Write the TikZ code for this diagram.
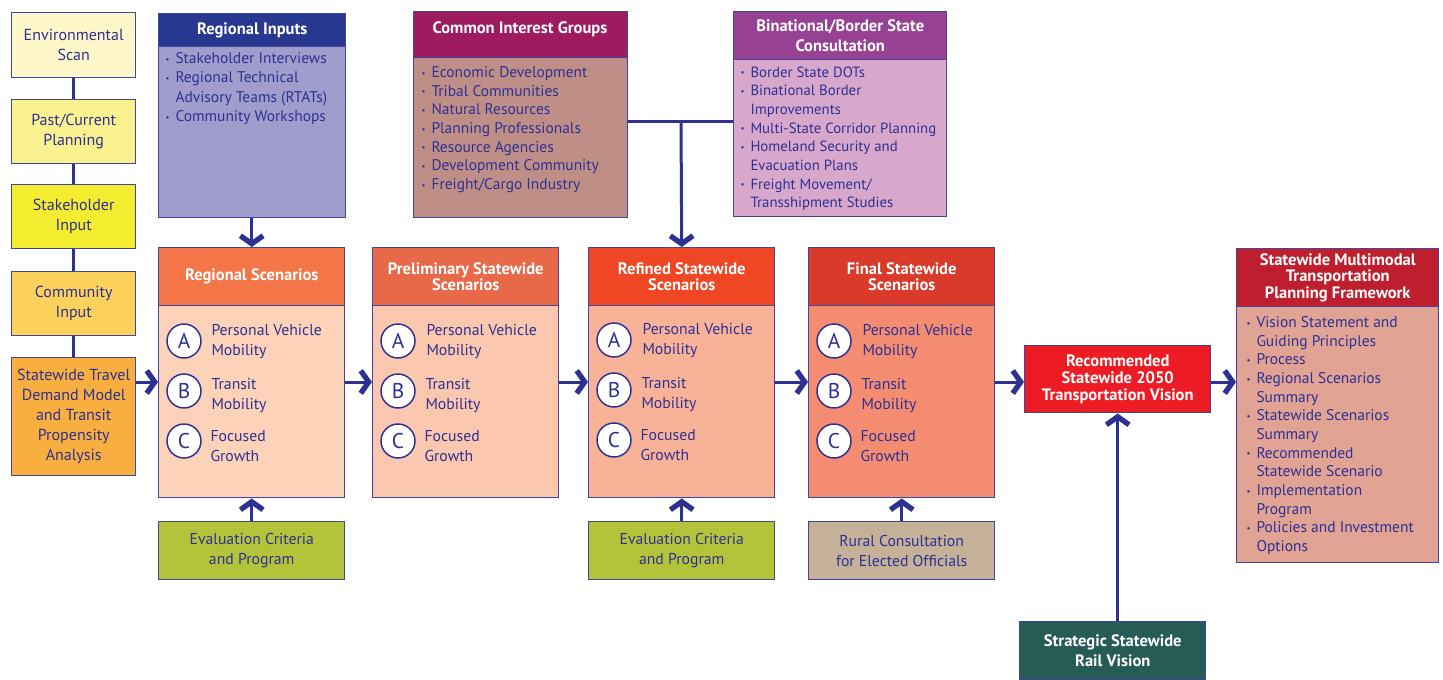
\documentclass[tikz,border=0pt]{standalone}
\usepackage{fontspec}
\setmainfont{PT Sans}
\usetikzlibrary{arrows.meta}

\definecolor{navy}{HTML}{2E3192}
\definecolor{envc}{HTML}{FEF7C9}
\definecolor{pastc}{HTML}{FAF28F}
\definecolor{stakec}{HTML}{F4EC2F}
\definecolor{commc}{HTML}{FDD25C}
\definecolor{travelc}{HTML}{F9AE40}
\definecolor{rihead}{HTML}{283891}
\definecolor{ribody}{HTML}{A09DCC}
\definecolor{cighead}{HTML}{9E1B5F}
\definecolor{cigbody}{HTML}{BF8F87}
\definecolor{binhead}{HTML}{964191}
\definecolor{binbody}{HTML}{D8A8CC}
\definecolor{reghead}{HTML}{F47548}
\definecolor{regbody}{HTML}{FCD2B8}
\definecolor{prehead}{HTML}{E8694A}
\definecolor{prebody}{HTML}{FBC8AF}
\definecolor{refhead}{HTML}{EF4623}
\definecolor{refbody}{HTML}{F8B297}
\definecolor{finhead}{HTML}{D93A29}
\definecolor{finbody}{HTML}{F48C71}
\definecolor{evalc}{HTML}{B4C43A}
\definecolor{ruralc}{HTML}{C4B198}
\definecolor{recc}{HTML}{ED1C24}
\definecolor{railc}{HTML}{275B55}
\definecolor{smhead}{HTML}{BE1E2D}
\definecolor{smbody}{HTML}{E1A394}

% bullet lines and their hanging continuation
\newcommand{\itm}[1]{\makebox[7.5pt][l]{\raisebox{1pt}{\fontsize{6.5}{6.5}\selectfont\textbullet}}#1}
\newcommand{\cnt}[1]{\hspace*{7.5pt}#1}

\tikzset{every picture/.style={line width=0.75pt}}
\tikzset{
  wh/.style 2 args={minimum width=#1*0.75pt, minimum height=#2*0.75pt},
  box/.style={rectangle, draw=navy!90, line width=1.1pt, anchor=north west,
    inner sep=0pt, align=center, text=navy},
  side/.style={box, font=\fontsize{12}{15}\selectfont},
  plain/.style={box, font=\fontsize{11.8}{15}\selectfont},
  head/.style={box, text=white, font=\bfseries\fontsize{12.4}{12.5}\selectfont},
  list/.style={anchor=north west, inner sep=0pt, align=left, text=navy,
    font=\fontsize{11.6}{14}\selectfont},
  letter/.style={circle, draw=navy, line width=1.1pt, fill=white,
    minimum size=25.5pt, inner sep=0pt, text=navy, font=\fontsize{16}{16}\selectfont},
  item/.style={anchor=west, inner sep=0pt, align=left, text=navy,
    font=\fontsize{11.8}{15}\selectfont},
  link/.style={draw=navy, line width=2.25pt},
  flow/.style={link, -{Straight Barb[length=6pt,width=17pt,line width=4pt,line cap=butt,line join=miter]}}
}

\begin{document}
\begin{tikzpicture}[x=0.75pt,y=0.75pt,yscale=-1,xscale=1]
\useasboundingbox (0,0) rectangle (1443,679);

% Text Node
\node[side, wh={124}{65}, fill=envc] (env) at (11,12) {Environmental\\Scan};
% Text Node
\node[side, wh={124}{64}, fill=pastc] (past) at (11,99) {Past/Current\\Planning};
% Text Node
\node[side, wh={124}{64}, fill=stakec] (stake) at (11,184) {Stakeholder\\Input};
% Text Node
\node[side, wh={124}{64}, fill=commc] (comm) at (11,271) {Community\\Input};
% Text Node
\node[side, wh={124}{118}, fill=travelc] (travel) at (11,357) {Statewide Travel\\Demand Model\\and Transit\\Propensity\\Analysis};

% Text Node
\node[head, wh={187}{33}, fill=rihead] (ri-h) at (158,13) {Regional Inputs};
\node[box, wh={187}{171}, fill=ribody] (ri) at (158,46) {};
\node[list, font=\fontsize{11.6}{14.6}\selectfont] (ri-list) at (165,52) {\itm{Stakeholder Interviews}\\
  \itm{Regional Technical}\\
  \cnt{Advisory Teams (RTATs)}\\
  \itm{Community Workshops}};

% Text Node
\node[head, wh={214}{46}, fill=cighead] (cig-h) at (413,11) {};
\node[head, draw=none, anchor=center] (cig-title) at (520,29) {Common Interest Groups};
\node[box, wh={214}{160}, fill=cigbody] (cig) at (413,57) {};
\node[list] (cig-list) at (421,66) {\itm{Economic Development}\\
  \itm{Tribal Communities}\\
  \itm{Natural Resources}\\
  \itm{Planning Professionals}\\
  \itm{Resource Agencies}\\
  \itm{Development Community}\\
  \itm{Freight/Cargo Industry}};

% Text Node
\node[head, wh={213}{48}, fill=binhead, font=\bfseries\fontsize{12.4}{15}\selectfont] (bin-h) at (733,11) {Binational/Border State\\Consultation};
\node[box, wh={213}{157}, fill=binbody] (bin) at (733,59) {};
\node[list, font=\fontsize{11.1}{14}\selectfont] (bin-list) at (740,66) {\itm{Border State DOTs}\\
  \itm{Binational Border}\\
  \cnt{Improvements}\\
  \itm{Multi-State Corridor Planning}\\
  \itm{Homeland Security and}\\
  \cnt{Evacuation Plans}\\
  \itm{Freight Movement/}\\
  \cnt{Transshipment Studies}};

% Text Node
\node[head, wh={186}{58}, fill=reghead] (reg-h) at (158,247) {Regional Scenarios};
\node[box, wh={186}{192}, fill=regbody] (reg) at (158,305) {};
\node[letter] (reg-a) at (184,341) {A};
\node[letter] (reg-b) at (184,391) {B};
\node[letter] (reg-c) at (184,441) {C};
\node[item] (reg-at) at (211,342) {Personal Vehicle\\Mobility};
\node[item] (reg-bt) at (211,396) {Transit\\Mobility};
\node[item] (reg-ct) at (210,446) {Focused\\Growth};

% Text Node
\node[head, wh={186}{58}, fill=prehead] (pre-h) at (372,247) {Preliminary Statewide\\Scenarios};
\node[box, wh={186}{192}, fill=prebody] (pre) at (372,305) {};
\node[letter] (pre-a) at (398,341) {A};
\node[letter] (pre-b) at (398,391) {B};
\node[letter] (pre-c) at (398,441) {C};
\node[item] (pre-at) at (426,342) {Personal Vehicle\\Mobility};
\node[item] (pre-bt) at (425,396) {Transit\\Mobility};
\node[item] (pre-ct) at (424,446) {Focused\\Growth};

% Text Node
\node[head, wh={186}{58}, fill=refhead] (ref-h) at (588,247) {Refined Statewide\\Scenarios};
\node[box, wh={186}{192}, fill=refbody] (ref) at (588,305) {};
\node[letter] (ref-a) at (614,340) {A};
\node[letter] (ref-b) at (614,390) {B};
\node[letter] (ref-c) at (614,440) {C};
\node[item] (ref-at) at (642,341) {Personal Vehicle\\Mobility};
\node[item] (ref-bt) at (641,395) {Transit\\Mobility};
\node[item] (ref-ct) at (640,445) {Focused\\Growth};

% Text Node
\node[head, wh={186}{58}, fill=finhead] (fin-h) at (808,247) {Final Statewide\\Scenarios};
\node[box, wh={186}{192}, fill=finbody] (fin) at (808,305) {};
\node[letter] (fin-a) at (834,341) {A};
\node[letter] (fin-b) at (834,391) {B};
\node[letter] (fin-c) at (834,441) {C};
\node[item] (fin-at) at (862,342) {Personal Vehicle\\Mobility};
\node[item] (fin-bt) at (861,396) {Transit\\Mobility};
\node[item] (fin-ct) at (860,446) {Focused\\Growth};

% Text Node
\node[plain, wh={186}{58}, fill=evalc] (eval-a) at (158,521) {Evaluation Criteria\\and Program};
\node[plain, wh={186}{58}, fill=evalc] (eval-b) at (588,521) {Evaluation Criteria\\and Program};
\node[plain, wh={186}{58}, fill=ruralc] (rural) at (808,521) {Rural Consultation\\for Elected Officials};

% Text Node
\node[head, wh={186}{67}, fill=recc] (rec) at (1024,345) {Recommended\\Statewide 2050\\Transportation Vision};
\node[head, wh={186}{58}, fill=railc, font=\bfseries\fontsize{12.4}{15}\selectfont] (rail) at (1019,621) {Strategic Statewide\\Rail Vision};

% Text Node
\node[head, wh={202}{58}, fill=smhead] (sm-h) at (1236,248) {Statewide Multimodal\\Transportation\\Planning Framework};
\node[box, wh={202}{256}, fill=smbody] (sm) at (1236,306) {};
\node[list] (sm-list) at (1246,316) {\itm{Vision Statement and}\\
  \cnt{Guiding Principles}\\
  \itm{Process}\\
  \itm{Regional Scenarios}\\
  \cnt{Summary}\\
  \itm{Statewide Scenarios}\\
  \cnt{Summary}\\
  \itm{Recommended}\\
  \cnt{Statewide Scenario}\\
  \itm{Implementation}\\
  \cnt{Program}\\
  \itm{Policies and Investment}\\
  \cnt{Options}};

% Connection
\draw[link] (env) -- (past);
\draw[link] (past) -- (stake);
\draw[link] (stake) -- (comm);
\draw[link] (comm) -- (travel);

% Connection
\coordinate (join) at (681,121);
\coordinate (row) at (0,382);
\draw[link] (cig.east |- join) -- (bin.west |- join);
\draw[flow] (join) -- (ref-h.north);
\draw[flow] (reg-h.north |- ri.south) -- (reg-h.north);

% Connection
\draw[flow] (travel.east |- row) -- (reg.west |- row);
\draw[flow] (reg.east |- row) -- (pre.west |- row);
\draw[flow] (pre.east |- row) -- (ref.west |- row);
\draw[flow] (ref.east |- row) -- (fin.west |- row);
\draw[flow] (fin.east |- row) -- (rec.west |- row);
\draw[flow] (rec.east |- row) -- (sm.west |- row);

% Connection
\draw[flow] (eval-a.north) -- (reg.south);
\draw[flow] (eval-b.north) -- (ref.south);
\draw[flow] (rural.north) -- (fin.south);
\draw[flow] (rec.south |- rail.north) -- (rec.south);

\end{tikzpicture}
\end{document}
